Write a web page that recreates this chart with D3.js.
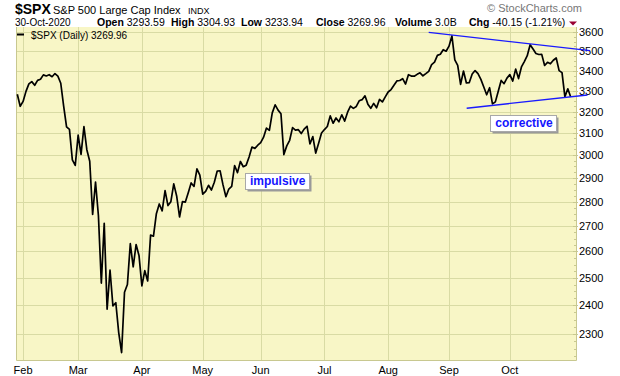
<!DOCTYPE html>
<html>
<head>
<meta charset="utf-8">
<script src="https://cdn.jsdelivr.net/npm/d3@7"></script>
<style>
body { margin: 0; background: #fff; }
text { font-family: "Liberation Sans", Arial, sans-serif; }
</style>
</head>
<body>
<svg id="chart" width="620" height="376"></svg>
<script>
// trading days, Jan 30 2020 .. Oct 30 2020
var days = [
  "2020-01-30","2020-01-31",
  "2020-02-03","2020-02-04","2020-02-05","2020-02-06","2020-02-07","2020-02-10","2020-02-11","2020-02-12","2020-02-13","2020-02-14",
  "2020-02-18","2020-02-19","2020-02-20","2020-02-21","2020-02-24","2020-02-25","2020-02-26","2020-02-27","2020-02-28",
  "2020-03-02","2020-03-03","2020-03-04","2020-03-05","2020-03-06","2020-03-09","2020-03-10","2020-03-11","2020-03-12","2020-03-13",
  "2020-03-16","2020-03-17","2020-03-18","2020-03-19","2020-03-20","2020-03-23","2020-03-24","2020-03-25","2020-03-26","2020-03-27",
  "2020-03-30","2020-03-31",
  "2020-04-01","2020-04-02","2020-04-03","2020-04-06","2020-04-07","2020-04-08","2020-04-09","2020-04-13","2020-04-14","2020-04-15",
  "2020-04-16","2020-04-17","2020-04-20","2020-04-21","2020-04-22","2020-04-23","2020-04-24","2020-04-27","2020-04-28","2020-04-29","2020-04-30",
  "2020-05-01","2020-05-04","2020-05-05","2020-05-06","2020-05-07","2020-05-08","2020-05-11","2020-05-12","2020-05-13","2020-05-14",
  "2020-05-15","2020-05-18","2020-05-19","2020-05-20","2020-05-21","2020-05-22","2020-05-26","2020-05-27","2020-05-28","2020-05-29",
  "2020-06-01","2020-06-02","2020-06-03","2020-06-04","2020-06-05","2020-06-08","2020-06-09","2020-06-10","2020-06-11","2020-06-12",
  "2020-06-15","2020-06-16","2020-06-17","2020-06-18","2020-06-19","2020-06-22","2020-06-23","2020-06-24","2020-06-25","2020-06-26",
  "2020-06-29","2020-06-30",
  "2020-07-01","2020-07-02","2020-07-06","2020-07-07","2020-07-08","2020-07-09","2020-07-10","2020-07-13","2020-07-14","2020-07-15",
  "2020-07-16","2020-07-17","2020-07-20","2020-07-21","2020-07-22","2020-07-23","2020-07-24","2020-07-27","2020-07-28","2020-07-29",
  "2020-07-30","2020-07-31",
  "2020-08-03","2020-08-04","2020-08-05","2020-08-06","2020-08-07","2020-08-10","2020-08-11","2020-08-12","2020-08-13","2020-08-14",
  "2020-08-17","2020-08-18","2020-08-19","2020-08-20","2020-08-21","2020-08-24","2020-08-25","2020-08-26","2020-08-27","2020-08-28","2020-08-31",
  "2020-09-01","2020-09-02","2020-09-03","2020-09-04","2020-09-08","2020-09-09","2020-09-10","2020-09-11","2020-09-14","2020-09-15",
  "2020-09-16","2020-09-17","2020-09-18","2020-09-21","2020-09-22","2020-09-23","2020-09-24","2020-09-25","2020-09-28","2020-09-29","2020-09-30",
  "2020-10-01","2020-10-02","2020-10-05","2020-10-06","2020-10-07","2020-10-08","2020-10-09","2020-10-12","2020-10-13","2020-10-14",
  "2020-10-15","2020-10-16","2020-10-19","2020-10-20","2020-10-21","2020-10-22","2020-10-23","2020-10-26","2020-10-27","2020-10-28",
  "2020-10-29","2020-10-30"
]

var closes = [
  3283.66, 3225.52,
  3248.92, 3297.59, 3334.69, 3345.78, 3327.71, 3352.09, 3357.75, 3379.45, 3373.94, 3380.16,
  3370.29, 3386.15, 3373.23, 3337.75, 3225.89, 3128.21, 3116.39, 2978.76, 2954.22,
  3090.23, 3003.37, 3130.12, 3023.94, 2972.37, 2746.56, 2882.23, 2741.38, 2480.64, 2711.02,
  2386.13, 2529.19, 2398.10, 2409.39, 2304.92, 2237.40, 2447.33, 2475.56, 2630.07, 2541.47,
  2626.65, 2584.59,
  2470.50, 2526.90, 2488.65, 2663.68, 2659.41, 2749.98, 2789.82, 2761.63, 2846.06, 2783.36,
  2799.55, 2874.56, 2823.16, 2736.56, 2799.31, 2797.80, 2836.74, 2878.48, 2863.39, 2939.51, 2912.43,
  2830.71, 2842.74, 2868.44, 2848.42, 2881.19, 2929.80, 2930.32, 2870.12, 2820.00, 2852.50,
  2863.70, 2953.91, 2922.94, 2971.61, 2948.51, 2955.45, 2991.77, 3036.13, 3029.73, 3044.31,
  3055.73, 3080.82, 3122.87, 3112.35, 3193.93, 3232.39, 3207.18, 3190.14, 3002.10, 3041.31,
  3066.59, 3124.74, 3113.49, 3115.34, 3097.74, 3117.86, 3131.29, 3050.33, 3083.76, 3009.05,
  3053.24, 3100.29,
  3115.86, 3130.01, 3179.72, 3145.32, 3169.94, 3152.05, 3185.04, 3155.22, 3197.52, 3226.56,
  3215.57, 3224.73, 3251.84, 3257.30, 3276.02, 3235.66, 3215.63, 3239.41, 3218.44, 3258.44,
  3246.22, 3271.12,
  3294.61, 3306.51, 3327.77, 3349.16, 3351.28, 3360.47, 3333.69, 3380.35, 3373.43, 3372.85,
  3381.99, 3389.78, 3374.85, 3385.51, 3397.16, 3431.28, 3443.62, 3478.73, 3484.55, 3508.01, 3500.31,
  3526.65, 3580.84, 3455.06, 3426.96, 3331.84, 3398.96, 3339.19, 3340.97, 3383.54, 3401.20,
  3385.49, 3357.01, 3319.47, 3281.06, 3315.57, 3236.92, 3246.59, 3298.46, 3351.60, 3335.47, 3363.00,
  3380.80, 3348.42, 3408.60, 3360.97, 3419.44, 3446.83, 3477.14, 3534.22, 3511.93, 3488.67,
  3483.34, 3483.81, 3426.92, 3443.12, 3435.56, 3453.49, 3465.39, 3400.97, 3390.68, 3271.03,
  3310.11, 3269.96
]

var monthNames = ["Jan", "Feb", "Mar", "Apr", "May", "Jun", "Jul", "Aug", "Sep", "Oct", "Nov", "Dec"]
var priceTicks = [2300, 2400, 2500, 2600, 2700, 2800, 2900, 3000, 3100, 3200, 3300, 3400, 3500, 3600]

// trendlines as [trading-day index, price]
var upperTrend = [[142, 3600], [197.7, 3503]]
var lowerTrend = [[155.1, 3216], [196.8, 3280]]

// annotation labels: [trading-day index, price, text]
var notes = [[80.3, 2871, "impulsive"], [165.0, 3129, "corrective"]]

var plot = { left: 16, right: 576, top: 27, bottom: 360 }

var svg = d3.select("#chart")

var xScale = d3.scaleLinear()
    .domain([0, days.length - 1])
    .range([17.3, 570.7])

var yScale = d3.scaleLog()
    .domain([2300, 3600])
    .range([334, 32.3])

// plot background
svg.append("rect")
    .attr("x", plot.left)
    .attr("y", plot.top)
    .attr("width", plot.right - plot.left)
    .attr("height", plot.bottom - plot.top)
    .attr("fill", "#f8f6c6")

// month starts
var monthStarts = []
days.forEach(function (d, i) {
    var m = +d.slice(5, 7)
    if (i > 0 && m != +days[i - 1].slice(5, 7)) monthStarts.push({ i: i, label: monthNames[m - 1] })
})

// grid
svg.append("g").selectAll("line")
    .data(priceTicks)
    .enter().append("line")
    .attr("x1", plot.left).attr("x2", plot.right)
    .attr("y1", function (d) { return Math.round(yScale(d)) + 0.5 })
    .attr("y2", function (d) { return Math.round(yScale(d)) + 0.5 })
    .attr("stroke", "#d9dba4")
    .attr("stroke-width", 1)

svg.append("g").selectAll("line")
    .data(monthStarts)
    .enter().append("line")
    .attr("x1", function (d) { return Math.round(xScale(d.i)) + 0.5 })
    .attr("x2", function (d) { return Math.round(xScale(d.i)) + 0.5 })
    .attr("y1", plot.top).attr("y2", plot.bottom)
    .attr("stroke", "#d9dba4")
    .attr("stroke-width", 1)

// right axis with minor ticks
var minor = d3.range(2225, 3625, 25).filter(function (v) { return v % 100 != 0 })
svg.append("g").selectAll("line")
    .data(minor)
    .enter().append("line")
    .attr("x1", plot.right - 2).attr("x2", plot.right)
    .attr("y1", function (d) { return Math.round(yScale(d)) + 0.5 })
    .attr("y2", function (d) { return Math.round(yScale(d)) + 0.5 })
    .attr("stroke", "#c8c890")

svg.append("g").selectAll("line")
    .data(priceTicks)
    .enter().append("line")
    .attr("x1", plot.right - 3).attr("x2", plot.right + 2)
    .attr("y1", function (d) { return Math.round(yScale(d)) + 0.5 })
    .attr("y2", function (d) { return Math.round(yScale(d)) + 0.5 })
    .attr("stroke", "#c8c890")

svg.append("g").selectAll("text")
    .data(priceTicks)
    .enter().append("text")
    .attr("x", plot.right + 3)
    .attr("y", function (d) { return yScale(d) + 4 })
    .attr("font-size", "11px")
    .attr("fill", "#000")
    .text(function (d) { return d })

// plot frame (left, right, bottom)
svg.append("path")
    .attr("d", "M" + (plot.left + 0.5) + "," + plot.top + "V" + (plot.bottom + 0.5) + "H" + (plot.right + 0.5) + "V" + plot.top)
    .attr("fill", "none")
    .attr("stroke", "#c8c890")
    .attr("stroke-width", 1)

// month labels
svg.append("g").selectAll("text")
    .data(monthStarts)
    .enter().append("text")
    .attr("x", function (d) { return xScale(d.i) })
    .attr("y", 374)
    .attr("text-anchor", "middle")
    .attr("font-size", "11px")
    .text(function (d) { return d.label })

// price line
var line = d3.line()
    .x(function (d, i) { return xScale(i) })
    .y(function (d) { return yScale(d) })

svg.append("path")
    .datum(closes)
    .attr("d", line)
    .attr("fill", "none")
    .attr("stroke", "#000")
    .attr("stroke-width", 1.7)
    .attr("stroke-linejoin", "round")

// trendlines
var tline = d3.line()
    .x(function (d) { return xScale(d[0]) })
    .y(function (d) { return yScale(d[1]) })

svg.append("g").selectAll("path")
    .data([upperTrend, lowerTrend])
    .enter().append("path")
    .attr("d", tline)
    .attr("stroke", "#1a1aff")
    .attr("stroke-width", 1.3)
    .attr("fill", "none")

// annotation boxes
notes.forEach(function (n) {
    var g = svg.append("g")
    var tx = g.append("text")
        .attr("x", xScale(n[0]))
        .attr("y", yScale(n[1]))
        .attr("font-size", "12px")
        .attr("font-weight", "bold")
        .attr("fill", "#1414ff")
        .text(n[2])
    var bb = tx.node().getBBox()
    var bx = Math.round(bb.x) - 4.5, by = Math.round(bb.y) - 0.5
    var bw = Math.round(bb.width) + 8, bh = Math.round(bb.height) + 2
    g.insert("rect", "text")
        .attr("x", bx + 2).attr("y", by + 2)
        .attr("width", bw).attr("height", bh)
        .attr("fill", "#9a9a9a")
    g.insert("rect", "text")
        .attr("x", bx).attr("y", by)
        .attr("width", bw).attr("height", bh)
        .attr("fill", "#fff")
        .attr("stroke", "#a8a8a8")
})

// header
svg.append("text")
    .attr("x", 15).attr("y", 14)
    .attr("font-size", "14px")
    .attr("font-weight", "bold")
    .text("$SPX")
svg.append("text")
    .attr("x", 53).attr("y", 14)
    .attr("font-size", "11px")
    .text("S&P 500 Large Cap Index")
svg.append("text")
    .attr("x", 188).attr("y", 14)
    .attr("font-size", "9px")
    .text("INDX")

svg.append("text")
    .attr("x", 487).attr("y", 12)
    .attr("font-size", "11px")
    .attr("fill", "#777")
    .text("\u00a9 StockCharts.com")

svg.append("text")
    .attr("x", 15).attr("y", 26)
    .attr("font-size", "10px")
    .text("30-Oct-2020")

var stats = [["Open", "3293.59", 97], ["High", "3304.93", 171], ["Low", "3233.94", 241],
             ["Close", "3269.96", 316], ["Volume", "3.0B", 395], ["Chg", "-40.15 (-1.21%)", 469]]
stats.forEach(function (s) {
    var t = svg.append("text").attr("x", s[2]).attr("y", 26).attr("font-size", "10.5px")
    t.append("tspan").attr("font-weight", "bold").text(s[0])
    t.append("tspan").text(" " + s[1])
})
svg.append("path")
    .attr("d", "M569,21.5L577,21.5L573,25.5Z")
    .attr("fill", "#990033")

// legend
svg.append("line")
    .attr("x1", 17).attr("x2", 24)
    .attr("y1", 34.5).attr("y2", 34.5)
    .attr("stroke", "#000")
    .attr("stroke-width", 2)
svg.append("text")
    .attr("x", 31).attr("y", 38.5)
    .attr("font-size", "10px")
    .attr("font-family", "DejaVu Sans")
    .text("$SPX (Daily) 3269.96")
</script>
</body>
</html>
